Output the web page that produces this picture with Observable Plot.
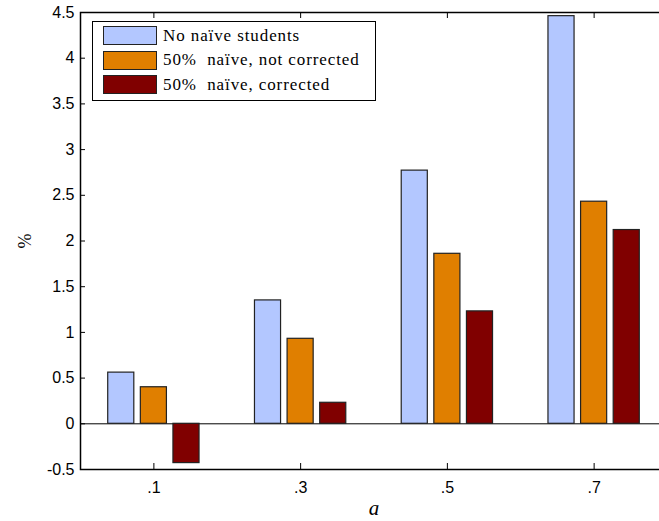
<!DOCTYPE html>
<html>
<head>
<meta charset="utf-8">
<script src="https://cdn.jsdelivr.net/npm/d3@7"></script>
<script src="https://cdn.jsdelivr.net/npm/@observablehq/plot@0.6"></script>
<style>
  html, body { margin: 0; padding: 0; overflow: hidden; background: #fff; }
  #wrap { position: relative; width: 659px; height: 521px; overflow: hidden; }
  #chart svg { max-width: none !important; display: block; }
  #legend {
    position: absolute; left: 92px; top: 21px; width: 284px; height: 80px;
    box-sizing: border-box; border: 1.5px solid #000; background: #fff; color: #000;
  }
  .row { position: absolute; left: 10px; height: 19px; display: flex; align-items: center; white-space: pre; }
  .sw { width: 52px; height: 17px; border: 1.2px solid #222; margin-right: 6px; flex: none; }
</style>
</head>
<body>
<div id="wrap"><div id="chart"></div><div id="legend"></div></div>
<script>
const categories = [".1", ".3", ".5", ".7"];
const series = ["No naïve students", "50%  naïve, not corrected", "50%  naïve, corrected"];
const noNaive = [0.56, 1.35, 2.77, 4.46];
const notCorrected = [0.40, 0.93, 1.86, 2.43];
const corrected = [-0.43, 0.23, 1.23, 2.12];
const colors = ["#b3c7ff", "#e07f00", "#800000"];
const yTicks = [-0.5, 0, 0.5, 1, 1.5, 2, 2.5, 3, 3.5, 4, 4.5];
const xTicks = [1, 2, 3, 4];

const valuesBySeries = [noNaive, notCorrected, corrected];
const groupW = 2 / 3;
const barW = groupW / 3 * 0.8;
const data = categories.flatMap((c, i) => valuesBySeries.map((vals, j) => ({
  cat: c, s: series[j], value: vals[i],
  x1: i + 1 + (j - 1) * groupW / 3 - barW / 2,
  x2: i + 1 + (j - 1) * groupW / 3 + barW / 2
})));

const sansFont = "'Liberation Sans', Arial, sans-serif";
const serifFont = "'Liberation Serif', 'Times New Roman', serif";
const tickFont = { fontSize: 16, fontFamily: sansFont };

const chart = Plot.plot({
  width: 667, height: 521,
  marginLeft: 80, marginRight: 0, marginTop: 12, marginBottom: 52,
  style: { fontFamily: sansFont, fontSize: "16px", color: "#000", background: "#fff", maxWidth: "none" },
  x: { domain: [0.5, 4.5] },
  y: { domain: [-0.5, 4.5] },
  color: { domain: series, range: colors },
  marks: [
    Plot.ruleY([0], { stroke: "#000", strokeWidth: 1 }),
    Plot.rect(data, { x1: "x1", x2: "x2", y1: 0, y2: "value", fill: "s", stroke: "#222", strokeWidth: 1.2 }),
    Plot.axisY(yTicks, { tickSize: 0, tickPadding: 6, tickFormat: d => String(d), label: null, ...tickFont }),
    Plot.axisY(yTicks, { tickSize: 5, dx: 5, tickFormat: () => "", label: null }),
    Plot.axisX(xTicks, { tickSize: 0, tickPadding: 12, tickFormat: d => categories[d - 1], label: null, ...tickFont }),
    Plot.axisX(xTicks, { tickSize: 6, dy: -6, tickFormat: () => "", label: null }),
    Plot.axisX(xTicks, { anchor: "top", tickSize: 5, dy: 5, tickFormat: () => "", label: null }),
    Plot.frame({ stroke: "#000", strokeWidth: 1.5 }),
    Plot.text(["a"], { frameAnchor: "bottom", lineAnchor: "middle", dy: 39, fontSize: 21, fontStyle: "italic", fontFamily: serifFont }),
    Plot.text(["%"], { frameAnchor: "left", textAnchor: "middle", lineAnchor: "middle", dx: -55, rotate: -90, fontSize: 18, fontFamily: serifFont })
  ]
});
document.getElementById("chart").appendChild(chart);

const legend = document.getElementById("legend");
legend.style.fontFamily = serifFont;
series.forEach((s, j) => {
  const row = document.createElement("div");
  row.className = "row";
  row.style.top = (4 + j * 24.5) + "px";
  const sw = document.createElement("div");
  sw.className = "sw";
  sw.style.background = colors[j];
  const lbl = document.createElement("span");
  lbl.textContent = s;
  lbl.style.fontFamily = serifFont;
  lbl.style.fontSize = "17px";
  lbl.style.letterSpacing = "0.9px";
  row.appendChild(sw); row.appendChild(lbl);
  legend.appendChild(row);
});
</script>
</body>
</html>
